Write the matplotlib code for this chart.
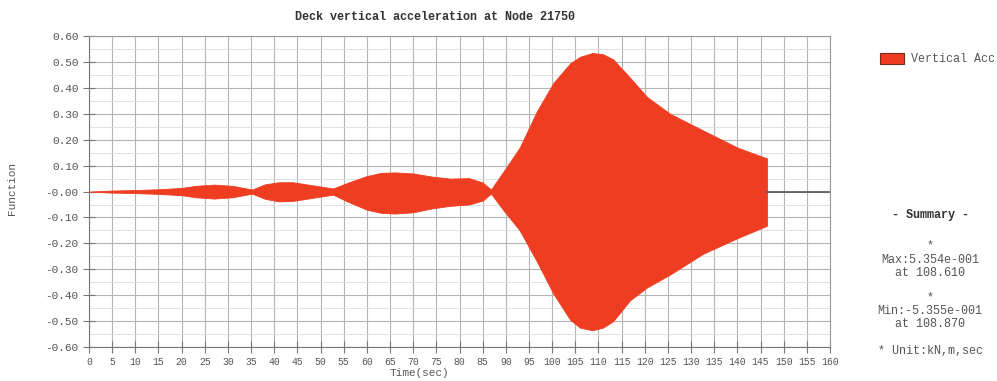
import numpy as np
import matplotlib.pyplot as plt
from matplotlib.ticker import MultipleLocator
from matplotlib.patches import Rectangle

plt.rcParams['font.family'] = ['Liberation Mono', 'DejaVu Sans Mono']

# envelope of the response
time = [0, 5, 10, 15, 20, 23, 27, 31, 35.2, 38, 41, 44, 48, 52.7, 56, 60, 63, 66,
        70, 74, 78, 82, 85, 86.8, 89.4, 93, 96.7, 100.3, 103.9, 106, 108.7, 111,
        113.2, 116.8, 120.5, 125.5, 132.6, 140, 146.4]
upper = [0, 0.004, 0.006, 0.009, 0.014, 0.022, 0.027, 0.022, 0.008, 0.028, 0.036,
         0.036, 0.025, 0.012, 0.035, 0.06, 0.072, 0.074, 0.07, 0.058, 0.05, 0.052,
         0.035, 0.008, 0.075, 0.17, 0.31, 0.42, 0.495, 0.52, 0.535, 0.53, 0.51,
         0.44, 0.365, 0.30, 0.236, 0.17, 0.128]
lower = [0, -0.004, -0.006, -0.009, -0.014, -0.022, -0.027, -0.022, -0.008, -0.028,
         -0.038, -0.036, -0.025, -0.012, -0.04, -0.07, -0.082, -0.085, -0.08, -0.065,
         -0.055, -0.05, -0.035, -0.008, -0.07, -0.15, -0.27, -0.395, -0.495, -0.525,
         -0.5355, -0.525, -0.50, -0.42, -0.37, -0.32, -0.24, -0.18, -0.132]
end_time = 160

summary = ["- Summary -", "*", "Max:5.354e-001", "at 108.610", "*",
           "Min:-5.355e-001", "at 108.870", "* Unit:kN,m,sec"]

fig = plt.figure(figsize=(9.97, 3.81), dpi=100)
ax = fig.add_axes([0.0893, 0.0892, 0.7432, 0.816])

red = '#ef3d22'
ax.fill_between(time, lower, upper, color=red, linewidth=0.6, edgecolor=red, zorder=3)
ax.plot([time[-1], end_time], [0, 0], color='#555555', lw=1.2, zorder=3)

ax.set_xlim(0, 160)
ax.set_ylim(-0.6, 0.6)
ax.xaxis.set_major_locator(MultipleLocator(5))
ax.yaxis.set_major_locator(MultipleLocator(0.1))
ax.yaxis.set_minor_locator(MultipleLocator(0.05))
ax.set_yticklabels([("%.2f" % v) if v > 1e-9 else "-%.2f" % abs(v)
                    for v in ax.get_yticks()])
ax.grid(which='major', color='#b5b5b5', lw=0.8)
ax.grid(which='minor', axis='y', color='#dcdcdc', lw=0.6)
ax.tick_params(which='major', direction='inout', length=8, width=0.8,
               colors='#777777', labelcolor='#555555')
ax.tick_params(axis='y', labelsize=8)
ax.tick_params(axis='x', labelsize=7)
ax.tick_params(which='minor', length=0)
for s in ax.spines.values():
    s.set_color('#999999')
ax.spines['left'].set_color('#777777')
ax.spines['bottom'].set_color('#777777')

fig.text(0.436, 0.955, "Deck vertical acceleration at Node 21750", ha='center',
         va='center', fontsize=8.5, fontweight='bold', color='#333333')
fig.text(0.012, 0.505, "Function", rotation=90, ha='center', va='center',
         fontsize=8, color='#555555')
fig.text(0.421, 0.022, "Time(sec)", ha='center', va='center', fontsize=8, color='#555555')

# legend
fig.patches.append(Rectangle((0.8826, 0.832), 0.024, 0.029, transform=fig.transFigure,
                             facecolor=red, edgecolor='#7a2a1a', lw=0.8))
fig.text(0.914, 0.846, "Vertical Acc", ha='left', va='center',
         fontsize=8.5, color='#555555')

ys = [215, 245, 260, 273, 297, 311, 324, 351]
for txt, y in zip(summary, ys):
    bold = txt.startswith("- Summary")
    fig.text(0.933, 1 - y / 381, txt, ha='center', va='center',
             fontsize=8.5, fontweight='bold' if bold else 'normal',
             color='#333333' if bold else '#555555')

fig.savefig('out.png', dpi=100)
